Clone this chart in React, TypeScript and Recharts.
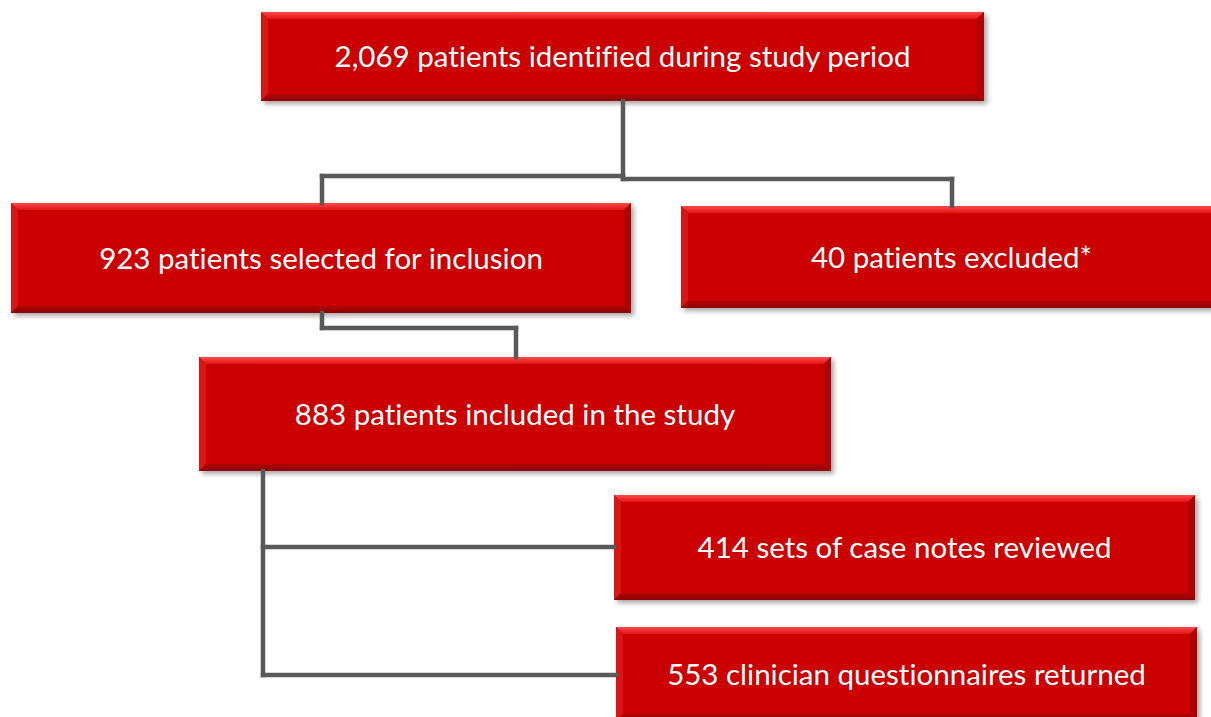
import React from "react";
import { ComposedChart, XAxis, YAxis, ReferenceArea, ReferenceLine, Scatter } from "recharts";

// Flowchart nodes (in chart units: x 0..1211, y 0..717 top-down)
const boxLabels = [
  "2,069 patients identified during study period",
  "923 patients selected for inclusion",
  "40 patients excluded*",
  "883 patients included in the study",
  "414 sets of case notes reviewed",
  "553 clinician questionnaires returned",
];
const boxX1 = [261, 11, 681, 199, 614, 616];
const boxX2 = [984, 631, 1222, 831, 1195, 1197];
const boxY1 = [12, 203, 206, 357, 495, 627];
const boxY2 = [101, 313, 308, 471, 600, 721];

// Connector segments
const segX1 = [623, 322, 623, 322, 952, 322, 322, 516, 263, 263, 263];
const segY1 = [101, 176, 179, 176, 179, 313, 328, 328, 471, 547, 675];
const segX2 = [623, 623, 952, 322, 952, 322, 516, 516, 263, 614, 616];
const segY2 = [179, 176, 179, 203, 206, 328, 328, 357, 675, 547, 675];

const W = 1211;
const H = 717;

const centers = boxLabels.map((l, i) => ({
  x: (boxX1[i] + boxX2[i]) / 2,
  y: (boxY1[i] + boxY2[i]) / 2,
  label: l,
}));

const BevelBox = (props: any) => {
  const { x, y, width: w, height: h, text } = props;
  const b = 7;
  const cx = x + w / 2;
  const cy = y + h / 2;
  return (
    <g>
      <rect x={x} y={y} width={w} height={h} fill="#CB0606" filter="url(#boxShadow)" />
      <polygon
        points={`${x},${y} ${x + w},${y} ${x + w - b},${y + b} ${x + b},${y + b}`}
        fill="url(#topBevel)"
      />
      <polygon
        points={`${x},${y} ${x + b},${y + b} ${x + b},${y + h - b} ${x},${y + h}`}
        fill="#D81616"
      />
      <polygon
        points={`${x + w},${y} ${x + w - b},${y + b} ${x + w - b},${y + h - b} ${x + w},${y + h}`}
        fill="#AE0303"
      />
      <polygon
        points={`${x},${y + h} ${x + b},${y + h - b} ${x + w - b},${y + h - b} ${x + w},${y + h}`}
        fill="url(#bottomBevel)"
      />
      <text
        x={cx}
        y={cy + 10.5}
        textAnchor="middle"
        fill="#FFFFFF"
        fontFamily="Lato, 'Open Sans', sans-serif"
        fontSize={29.5}
        style={{ fontVariantLigatures: "none", fontFeatureSettings: '"liga" 0' }}
      >
        {text}
      </text>
    </g>
  );
};

export default function App() {
  return (
    <div style={{ position: "absolute", left: 0, top: 0, width: W, height: H, background: "#fff" }}>
      <ComposedChart width={W} height={H} margin={{ top: 0, right: 0, bottom: 0, left: 0 }} data={centers}>
        <defs>
          <filter id="boxShadow" x="-5%" y="-20%" width="115%" height="150%">
            <feDropShadow dx="3" dy="3" stdDeviation="2.5" floodColor="#000" floodOpacity="0.35" />
          </filter>
          <linearGradient id="topBevel" x1="0" y1="0" x2="0" y2="1">
            <stop offset="0%" stopColor="#FF4A4A" />
            <stop offset="100%" stopColor="#E21414" />
          </linearGradient>
          <linearGradient id="bottomBevel" x1="0" y1="0" x2="0" y2="1">
            <stop offset="0%" stopColor="#B00606" />
            <stop offset="100%" stopColor="#8E0202" />
          </linearGradient>
        </defs>
        <XAxis type="number" dataKey="x" domain={[0, W]} hide allowDataOverflow />
        <YAxis type="number" dataKey="y" domain={[0, H]} reversed hide allowDataOverflow />
        {segX1.map((_, i) => (
          <ReferenceLine
            key={`seg-${i}`}
            segment={[
              { x: segX1[i], y: segY1[i] },
              { x: segX2[i], y: segY2[i] },
            ]}
            stroke="#595959"
            strokeWidth={4.5}
            strokeLinecap="square"
            ifOverflow="visible"
          />
        ))}
        {boxLabels.map((label, i) => (
          <ReferenceArea
            key={`box-${i}`}
            x1={boxX1[i]}
            x2={boxX2[i]}
            y1={boxY1[i]}
            y2={boxY2[i]}
            ifOverflow="visible"
            shape={(p: any) => <BevelBox {...p} text={label} />}
          />
        ))}
        <Scatter dataKey="y" fill="none" shape={() => null} isAnimationActive={false} />
      </ComposedChart>
    </div>
  );
}
